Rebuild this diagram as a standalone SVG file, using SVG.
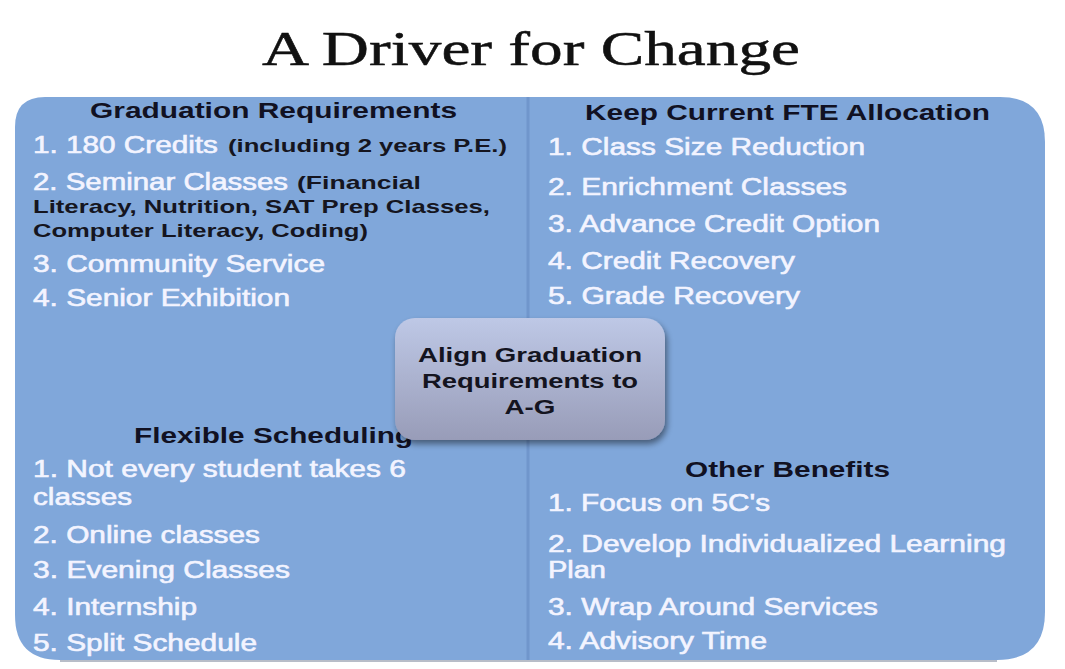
<svg xmlns="http://www.w3.org/2000/svg" width="1065" height="669" viewBox="0 0 1065 669">
<defs>
<linearGradient id="cg" x1="0" y1="0" x2="0" y2="1">
<stop offset="0" stop-color="#BEC8E6"/>
<stop offset="1" stop-color="#989CB8"/>
</linearGradient>
<filter id="sh" x="-10%" y="-10%" width="130%" height="140%">
<feGaussianBlur in="SourceAlpha" stdDeviation="3"/>
<feOffset dx="2" dy="4" result="o"/>
<feComponentTransfer><feFuncA type="linear" slope="0.45"/></feComponentTransfer>
<feMerge><feMergeNode/><feMergeNode in="SourceGraphic"/></feMerge>
</filter>
</defs>
<style>
.h{font-family:"Liberation Sans",Arial,sans-serif;font-weight:bold;font-size:22px;fill:#111122}
.w{font-family:"Liberation Sans",Arial,sans-serif;font-size:23px;fill:#F3F4FF;stroke:#F3F4FF;stroke-width:0.6px}
.d{font-family:"Liberation Sans",Arial,sans-serif;font-weight:bold;font-size:19px;fill:#151520}
.c{font-family:"Liberation Sans",Arial,sans-serif;font-weight:bold;font-size:20px;fill:#141420;text-anchor:middle}
.p{fill:#80A7DA}
</style>
<rect width="1065" height="669" fill="#FFFFFF"/>
<text x="531" y="65" font-family="'Liberation Serif','Times New Roman',serif" font-size="49" fill="#111111" stroke="#111111" stroke-width="0.5" text-anchor="middle" textLength="538" lengthAdjust="spacingAndGlyphs">A Driver for Change</text>

<g id="panel-tl">
<path class="p" d="M15 127 Q15 97 45 97 L527 97 L527 380 L15 380 Z"/>
<text class="h" x="90" y="118" textLength="367" lengthAdjust="spacingAndGlyphs">Graduation Requirements</text>
<text class="w" x="33" y="153" textLength="185" lengthAdjust="spacingAndGlyphs">1. 180 Credits</text>
<text class="d" x="228" y="152" font-size="17" textLength="279" lengthAdjust="spacingAndGlyphs">(including 2 years P.E.)</text>
<text class="w" x="33" y="190" textLength="255" lengthAdjust="spacingAndGlyphs">2. Seminar Classes</text>
<text class="d" x="297" y="189" textLength="124" lengthAdjust="spacingAndGlyphs">(Financial</text>
<text class="d" x="33" y="213" textLength="457" lengthAdjust="spacingAndGlyphs">Literacy, Nutrition, SAT Prep Classes,</text>
<text class="d" x="33" y="237" textLength="335" lengthAdjust="spacingAndGlyphs">Computer Literacy, Coding)</text>
<text class="w" x="33" y="272" textLength="292" lengthAdjust="spacingAndGlyphs">3. Community Service</text>
<text class="w" x="33" y="306" textLength="257" lengthAdjust="spacingAndGlyphs">4. Senior Exhibition</text>
</g>

<g id="panel-tr">
<path class="p" d="M527 97 L1000 97 Q1045 97 1045 142 L1045 380 L527 380 Z"/>
<text class="h" x="585" y="120" textLength="405" lengthAdjust="spacingAndGlyphs">Keep Current FTE Allocation</text>
<text class="w" x="548" y="155" textLength="317" lengthAdjust="spacingAndGlyphs">1. Class Size Reduction</text>
<text class="w" x="548" y="195" textLength="299" lengthAdjust="spacingAndGlyphs">2. Enrichment Classes</text>
<text class="w" x="548" y="232" textLength="332" lengthAdjust="spacingAndGlyphs">3. Advance Credit Option</text>
<text class="w" x="548" y="269" textLength="247" lengthAdjust="spacingAndGlyphs">4. Credit Recovery</text>
<text class="w" x="548" y="304" textLength="252" lengthAdjust="spacingAndGlyphs">5. Grade Recovery</text>
</g>

<g id="panel-bl">
<path class="p" d="M15 380 L527 380 L527 660 L60 660 Q15 660 15 615 Z"/>
<text class="h" x="134" y="443" textLength="279" lengthAdjust="spacingAndGlyphs">Flexible Scheduling</text>
<text class="w" x="33" y="477" textLength="373" lengthAdjust="spacingAndGlyphs">1. Not every student takes 6</text>
<text class="w" x="33" y="505" textLength="99" lengthAdjust="spacingAndGlyphs">classes</text>
<text class="w" x="33" y="543" textLength="227" lengthAdjust="spacingAndGlyphs">2. Online classes</text>
<text class="w" x="33" y="578" textLength="257" lengthAdjust="spacingAndGlyphs">3. Evening Classes</text>
<text class="w" x="33" y="615" textLength="164" lengthAdjust="spacingAndGlyphs">4. Internship</text>
<text class="w" x="33" y="651" textLength="224" lengthAdjust="spacingAndGlyphs">5. Split Schedule</text>
</g>

<g id="panel-br">
<path class="p" d="M527 380 L1045 380 L1045 612 Q1045 660 997 660 L527 660 Z"/>
<text class="h" x="685" y="477" textLength="205" lengthAdjust="spacingAndGlyphs">Other Benefits</text>
<text class="w" x="548" y="511" textLength="222" lengthAdjust="spacingAndGlyphs">1. Focus on 5C's</text>
<text class="w" x="548" y="552" textLength="458" lengthAdjust="spacingAndGlyphs">2. Develop Individualized Learning</text>
<text class="w" x="548" y="578" textLength="58" lengthAdjust="spacingAndGlyphs">Plan</text>
<text class="w" x="548" y="615" textLength="330" lengthAdjust="spacingAndGlyphs">3. Wrap Around Services</text>
<text class="w" x="548" y="649" textLength="219" lengthAdjust="spacingAndGlyphs">4. Advisory Time</text>
</g>

<g id="connectors">
<line x1="528" y1="97" x2="528" y2="660" stroke="#7096CC" stroke-width="3"/>
<line x1="60" y1="661" x2="997" y2="661" stroke="#B8BDC8" stroke-width="2"/>
</g>

<g id="center">
<rect x="395" y="318" width="270" height="122" rx="20" fill="url(#cg)" filter="url(#sh)"/>
<text class="c" x="530" y="362" textLength="224" lengthAdjust="spacingAndGlyphs">Align Graduation</text>
<text class="c" x="530" y="388" textLength="216" lengthAdjust="spacingAndGlyphs">Requirements to</text>
<text class="c" x="530" y="414" textLength="51" lengthAdjust="spacingAndGlyphs">A-G</text>
</g>
</svg>
